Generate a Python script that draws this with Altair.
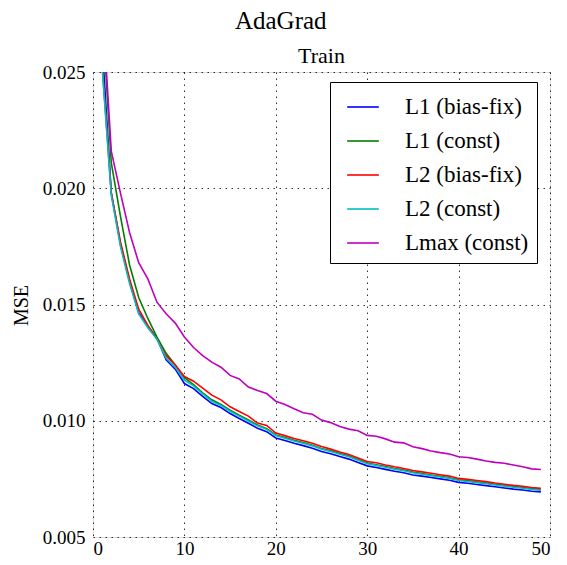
import altair as alt
import pandas as pd

epochs = list(range(1, 50))
series_names = ["L1 (bias-fix)", "L1 (const)", "L2 (bias-fix)", "L2 (const)", "Lmax (const)"]
series_colors = ["#0000ff", "#008000", "#ff0000", "#00bfbf", "#bf00bf"]

l1_bias_fix = [0.0262, 0.0198, 0.0176, 0.0160, 0.01465, 0.01408, 0.01355, 0.01262, 0.01222, 0.01160,
               0.01138, 0.01105, 0.01074, 0.01057, 0.01031, 0.01010, 0.00989, 0.00968, 0.00953, 0.00926,
               0.00915, 0.00903, 0.00893, 0.00882, 0.00868, 0.00858, 0.00846, 0.00835, 0.00820, 0.00806,
               0.00799, 0.00791, 0.00783, 0.00776, 0.00767, 0.00762, 0.00756, 0.00750, 0.00744, 0.00735,
               0.00731, 0.00726, 0.00721, 0.00716, 0.00711, 0.00706, 0.00702, 0.00697, 0.00694]
l1_const = [0.0276, 0.0211, 0.0188, 0.0167, 0.0153, 0.0144, 0.0136, 0.0129, 0.0124, 0.01185,
            0.01155, 0.0112, 0.0109, 0.01070, 0.01045, 0.01024, 0.01003, 0.00982, 0.00966, 0.00939,
            0.00928, 0.00916, 0.00906, 0.00895, 0.00881, 0.00871, 0.00859, 0.00848, 0.00833, 0.00818,
            0.00811, 0.00803, 0.00795, 0.00788, 0.00779, 0.00773, 0.00767, 0.00761, 0.00755, 0.00746,
            0.00742, 0.00737, 0.00732, 0.00727, 0.00722, 0.00717, 0.00713, 0.00708, 0.00704]
l2_bias_fix = [0.0253, 0.0198, 0.0177, 0.0161, 0.0148, 0.0141, 0.0135, 0.0128, 0.0124, 0.0119,
               0.0117, 0.0114, 0.0111, 0.0109, 0.0106, 0.0104, 0.0102, 0.0099, 0.0098, 0.00947,
               0.00936, 0.00924, 0.00914, 0.00903, 0.00889, 0.00878, 0.00866, 0.00855, 0.00840, 0.00825,
               0.00819, 0.00810, 0.00802, 0.00795, 0.00786, 0.00780, 0.00774, 0.00768, 0.00762, 0.00752,
               0.00748, 0.00743, 0.00738, 0.00732, 0.00727, 0.00722, 0.00718, 0.00713, 0.00709]
l2_const = [0.0252, 0.0197, 0.0175, 0.0159, 0.0146, 0.0140, 0.0135, 0.0127, 0.0123, 0.01175,
            0.01150, 0.01116, 0.01084, 0.01066, 0.01041, 0.01020, 0.00999, 0.00978, 0.00963, 0.00936,
            0.00925, 0.00913, 0.00903, 0.00892, 0.00878, 0.00868, 0.00856, 0.00845, 0.00830, 0.00815,
            0.00808, 0.00800, 0.00792, 0.00785, 0.00776, 0.00770, 0.00764, 0.00758, 0.00752, 0.00743,
            0.00739, 0.00734, 0.00729, 0.00724, 0.00719, 0.00714, 0.00710, 0.00705, 0.00701]
lmax_const = [0.0281, 0.0216, 0.0198, 0.0181, 0.0168, 0.0161, 0.0151, 0.0146, 0.0142, 0.0136,
              0.01315, 0.0128, 0.01252, 0.0123, 0.01195, 0.0118, 0.01145, 0.0113, 0.01117, 0.01084,
              0.0107, 0.01052, 0.01034, 0.01028, 0.01003, 0.00992, 0.00975, 0.00964, 0.00957, 0.00937,
              0.00933, 0.00922, 0.00908, 0.00905, 0.00888, 0.0088, 0.0087, 0.00863, 0.00857, 0.00845,
              0.00842, 0.00835, 0.00827, 0.00821, 0.00817, 0.0081, 0.00802, 0.00793, 0.0079]

x_ticks = [0, 10, 20, 30, 40, 50]
y_ticks = [0.005, 0.010, 0.015, 0.020, 0.025]

rows = []
for name, vals in zip(series_names, [l1_bias_fix, l1_const, l2_bias_fix, l2_const, lmax_const]):
    for e, v in zip(epochs, vals):
        rows.append({"epoch": e, "mse": v, "series": name})
df = pd.DataFrame(rows)

W, H = 457, 465
FONT = "Liberation Serif"
xscale = alt.Scale(domain=[0, 50], nice=False, zero=False)
yscale = alt.Scale(domain=[0.005, 0.025], nice=False, zero=False)

lines = alt.Chart(df).mark_line(strokeWidth=1.6, clip=True).encode(
    x=alt.X("epoch:Q", scale=xscale, title=None,
            axis=alt.Axis(values=x_ticks, format="d", grid=True, gridDash=[1.5, 4.5],
                          gridColor="black", gridOpacity=0.8, gridWidth=1, tickSize=0,
                          domain=False, labelPadding=2, labelFontSize=19, labelFont=FONT,
                          labelColor="black", orient="bottom")),
    y=alt.Y("mse:Q", scale=yscale,
            axis=alt.Axis(values=y_ticks, format=".3f", grid=True, gridDash=[1.5, 4.5],
                          gridColor="black", gridOpacity=0.8, gridWidth=1, tickSize=0,
                          domain=False, labelPadding=8, labelFontSize=19, labelFont=FONT,
                          labelColor="black", orient="left",
                          title="MSE", titleFont=FONT, titleFontSize=20, titleFontWeight="normal",
                          titleColor="black", titleX=-72, titleY=233, titleAngle=270,
                          titleAlign="center", titleBaseline="middle")),
    color=alt.Color("series:N", scale=alt.Scale(domain=series_names, range=series_colors),
                    legend=alt.Legend(orient="none", legendX=237, legendY=10, title=None,
                                      symbolType="stroke", symbolSize=1000, symbolStrokeWidth=1.6,
                                      labelFontSize=23, labelFont=FONT, labelColor="black",
                                      strokeColor="black", fillColor="white", padding=8,
                                      rowPadding=5, symbolOffset=8, labelOffset=25,
                                      cornerRadius=0)),
).properties(
    width=W, height=H,
    title=alt.TitleParams("Train", font=FONT, fontSize=22, fontWeight="normal",
                          anchor="middle", frame="group", offset=-5, color="black"),
)

chart = alt.vconcat(
    lines,
    title=alt.TitleParams("AdaGrad", font=FONT, fontSize=25, fontWeight="normal",
                          anchor="middle", frame="bounds", offset=11, color="black"),
).properties(
    padding={"left": 2, "top": 0, "right": 0, "bottom": 0},
).configure_view(stroke="black", strokeWidth=1.5).configure(background="white")

chart.save("out.html", embed_options={"renderer": "svg", "actions": False})
